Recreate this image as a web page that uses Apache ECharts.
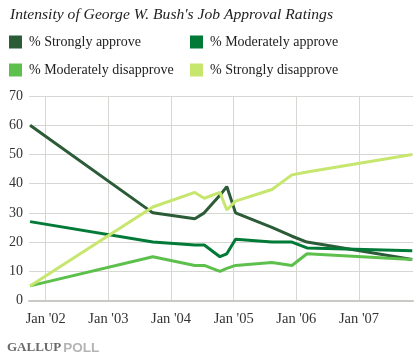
<!DOCTYPE html>
<html>
<head>
<meta charset="utf-8">
<script src="https://cdn.jsdelivr.net/npm/echarts@6/dist/echarts.min.js"></script>
<style>html,body{margin:0;padding:0;background:#fff;}#c{width:420px;height:360px;}</style>
</head>
<body>
<div id="c"></div>
<script>
// Survey dates as decimal years
var dates = [2001.75, 2003.71, 2004.38, 2004.53, 2004.78, 2004.89, 2005.03, 2005.61, 2005.93, 2006.17, 2007.85];
var stronglyApprove     = [60, 30, 28, 30, 36, 39, 30, 25, 22, 20, 14];
var moderatelyApprove   = [27, 20, 19, 19, 15, 16, 21, 20, 20, 18, 17];
var moderatelyDisapprove= [5, 15, 12, 12, 10, 11, 12, 13, 12, 16, 14];
var stronglyDisapprove  = [5, 32, 37, 35, 37, 31, 34, 38, 43, 44, 50];
var seriesNames = ['% Strongly approve', '% Moderately approve', '% Moderately disapprove', '% Strongly disapprove'];
var yTicks = [0, 10, 20, 30, 40, 50, 60, 70];

var colors = ['#2c5b37', '#007a36', '#5ec04c', '#c6e66e'];
var serif = '"Liberation Serif", "DejaVu Serif", serif';

function pairs(vals) { return dates.map(function (d, i) { return [d, vals[i]]; }); }
var allVals = [stronglyApprove, moderatelyApprove, moderatelyDisapprove, stronglyDisapprove];

var chart = echarts.init(document.getElementById('c'), null, {renderer: 'canvas'});
chart.setOption({
  animation: false,
  backgroundColor: '#fff',
  title: [{
    text: "Intensity of George W. Bush's Job Approval Ratings",
    left: 10, top: 7, padding: 0,
    textStyle: {fontFamily: serif, fontStyle: 'italic', fontWeight: 'normal', fontSize: 15.6, color: '#222'}
  }, {
    text: '{a|GALLUP}{b|POLL}',
    left: 7, top: 341, padding: 0,
    textStyle: {
      rich: {
        a: {fontFamily: serif, fontSize: 13, color: '#6a6a6a', padding: [0, 2, 0, 0]},
        b: {fontFamily: '"Liberation Sans", sans-serif', fontSize: 13.5, color: '#b4b4b4'}
      }
    }
  }],
  legend: [{
    left: 9, top: 35, padding: 0, orient: 'vertical', icon: 'rect',
    itemWidth: 13, itemHeight: 13, itemGap: 14,
    data: [seriesNames[0], seriesNames[2]],
    textStyle: {fontFamily: serif, fontSize: 14, color: '#222', padding: [0, 0, 0, 2]}
  }, {
    left: 190, top: 35, padding: 0, orient: 'vertical', icon: 'rect',
    itemWidth: 13, itemHeight: 13, itemGap: 14,
    data: [seriesNames[1], seriesNames[3]],
    textStyle: {fontFamily: serif, fontSize: 14, color: '#222', padding: [0, 0, 0, 2]}
  }],
  grid: {left: 29, right: 7, top: 96, bottom: 59.5, containLabel: false},
  xAxis: {
    type: 'value', min: 2001.733, max: 2007.862, minInterval: 1, maxInterval: 1,
    axisLine: {show: true, lineStyle: {color: '#c9c9c6', width: 2}},
    axisTick: {show: false},
    splitLine: {show: true, showMinLine: false, showMaxLine: false, lineStyle: {color: '#d6d6d3', width: 1}},
    axisLabel: {
      showMinLabel: false, showMaxLabel: false, margin: 11,
      fontFamily: serif, fontSize: 14.5, color: '#333',
      formatter: function (v) {
        if (Math.abs(v - Math.round(v)) > 1e-6) return '';
        return "Jan '" + String(Math.round(v) % 100).padStart(2, '0');
      }
    }
  },
  yAxis: {
    type: 'value', min: yTicks[0], max: yTicks[yTicks.length - 1], interval: 10,
    axisLine: {show: false}, axisTick: {show: false},
    splitLine: {show: true, lineStyle: {color: '#d6d6d3', width: 1}},
    axisLabel: {margin: 6, fontFamily: serif, fontSize: 14, color: '#333'}
  },
  series: seriesNames.map(function (n, i) {
    return {
      name: n, type: 'line', data: pairs(allVals[i]), symbol: 'none', smooth: false,
      lineStyle: {color: colors[i], width: 3}, itemStyle: {color: colors[i]},
      emphasis: {disabled: true}
    };
  })
});
</script>
</body>
</html>
